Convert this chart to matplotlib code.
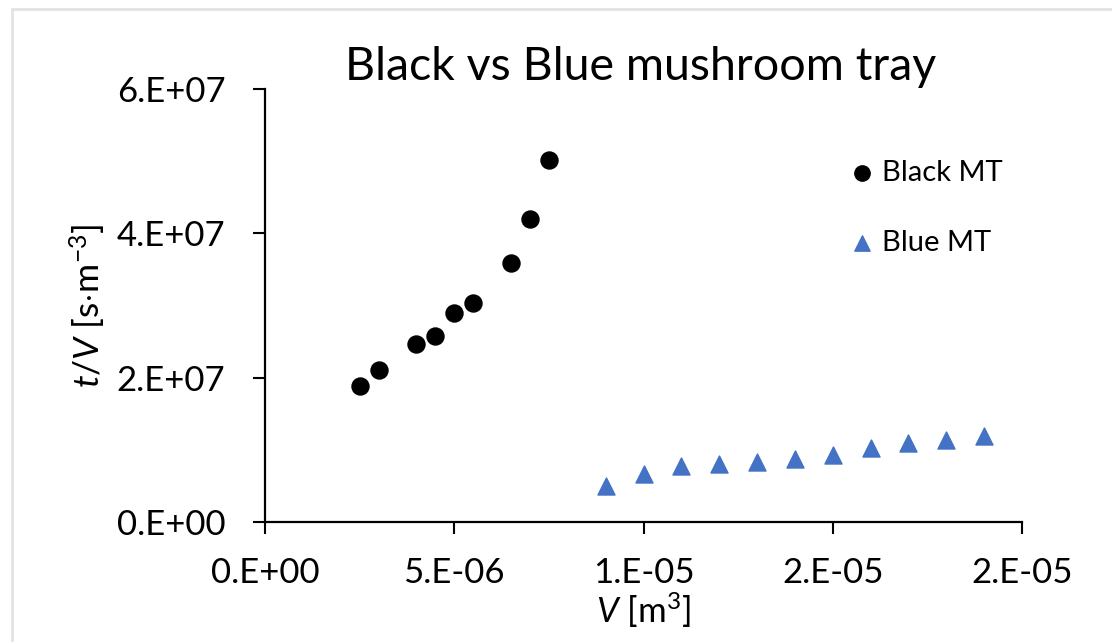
import matplotlib
matplotlib.use('Agg')
import matplotlib.pyplot as plt
from matplotlib.lines import Line2D

plt.rcParams['font.family'] = ['Lato', 'DejaVu Sans']
plt.rcParams['mathtext.fontset'] = 'custom'
plt.rcParams['mathtext.rm'] = 'Lato'
plt.rcParams['mathtext.it'] = 'Lato:italic'

# Data
black_v = [2.5e-6, 3.0e-6, 4.0e-6, 4.5e-6, 5.0e-6, 5.5e-6, 6.5e-6, 7.0e-6, 7.5e-6]
black_tv = [1.88e7, 2.10e7, 2.46e7, 2.58e7, 2.89e7, 3.03e7, 3.59e7, 4.20e7, 5.02e7]

blue_v = [9e-6, 1.0e-5, 1.1e-5, 1.2e-5, 1.3e-5, 1.4e-5, 1.5e-5, 1.6e-5, 1.7e-5, 1.8e-5, 1.9e-5]
blue_tv = [5.0e6, 6.7e6, 7.7e6, 8.1e6, 8.3e6, 8.7e6, 9.3e6, 1.03e7, 1.09e7, 1.13e7, 1.19e7]

x_ticks = [0, 5e-6, 1e-5, 1.5e-5, 2e-5]
x_ticklabels = ['0.E+00', '5.E-06', '1.E-05', '2.E-05', '2.E-05']
y_ticks = [0, 2e7, 4e7, 6e7]
y_ticklabels = ['0.E+00', '2.E+07', '4.E+07', '6.E+07']

fig = plt.figure(figsize=(11.12, 6.42), dpi=100)
ax = fig.add_axes([0.2383, 0.1869, 0.6808, 0.6745])

ax.scatter(black_v, black_tv, marker='o', s=150, color='black', label='Black MT', zorder=3)
ax.scatter(blue_v, blue_tv, marker='^', s=150, color='#4472C4', label='Blue MT', zorder=3)

ax.set_xlim(0, 2e-5)
ax.set_ylim(0, 6e7)
ax.set_xticks(x_ticks)
ax.set_xticklabels(x_ticklabels)
ax.set_yticks(y_ticks)
ax.set_yticklabels(y_ticklabels)

for side in ('top', 'right'):
    ax.spines[side].set_visible(False)
for side in ('left', 'bottom'):
    ax.spines[side].set_linewidth(1.6)
ax.tick_params(axis='both', direction='out', length=8.5, width=1.5, labelsize=25, colors='black')
ax.tick_params(axis='y', pad=20)
ax.tick_params(axis='x', pad=17)

ax.set_xlabel(r'$\mathit{V}$ [m$^3$]', fontsize=25, labelpad=1)
ax.set_ylabel(r'$\mathit{t/V}$ [s$\cdot$m$^{-3}$]', fontsize=25.5, labelpad=6)

fig.text(0.5765, 0.895, 'Black vs Blue mushroom tray', ha='center', va='center', fontsize=33.5)

ax.legend(loc='upper left', bbox_to_anchor=(0.773, 0.836), frameon=False, fontsize=21,
          handlelength=0.8, handletextpad=0.3, labelspacing=1.5, markerscale=0.9,
          borderaxespad=0, borderpad=0)

# light gray chart-area border (top and left edges visible)
fig.add_artist(Line2D([12 / 1112, 12 / 1112], [0, 1 - 9 / 642], transform=fig.transFigure,
                      color='#e3e3e3', lw=2))
fig.add_artist(Line2D([12 / 1112, 1], [1 - 9 / 642, 1 - 9 / 642], transform=fig.transFigure,
                      color='#e3e3e3', lw=2))

fig.savefig('out.png', dpi=100)
